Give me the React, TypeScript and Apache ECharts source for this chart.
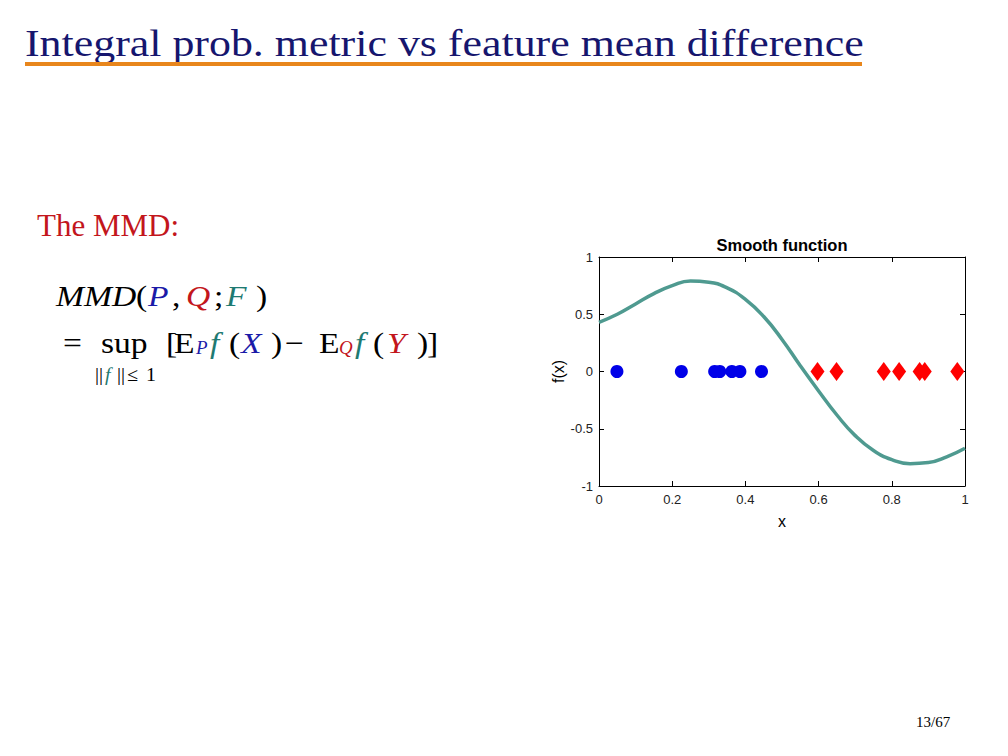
import React, { useEffect, useRef } from "react";
import * as echarts from "echarts";

const curveX = [0, 0.05, 0.1, 0.15, 0.2, 0.25, 0.3, 0.35, 0.4, 0.45, 0.5, 0.55, 0.6, 0.65, 0.7, 0.75, 0.8, 0.85, 0.9, 0.95, 1.0];
const curveY = [0.43, 0.5, 0.59, 0.68, 0.75, 0.79, 0.78, 0.73, 0.63, 0.48, 0.28, 0.05, -0.17, -0.38, -0.56, -0.69, -0.77, -0.805, -0.795, -0.745, -0.67];
const pX = [0.049, 0.225, 0.316, 0.33, 0.363, 0.385, 0.444];
const qX = [0.597, 0.649, 0.778, 0.82, 0.876, 0.89, 0.979];
const xTickLabels = ["0", "0.2", "0.4", "0.6", "0.8", "1"];
const yTickLabels = ["-1", "-0.5", "0", "0.5", "1"];

const SANS = "'Liberation Sans', Arial, sans-serif";
const SERIF = "'Liberation Serif', 'Times New Roman', serif";
const BLACK = "#000";
const BLUE = "#1a1aa8";
const RED = "#c3161c";
const TEAL = "#1e7a72";

// formula tokens: [text, x, centerY, font, color]
type Tok = [string, number, number, string, string];
const R30 = `30px ${SERIF}`;
const I30 = `italic 30px ${SERIF}`;
const I18 = `italic 18px ${SERIF}`;
const R19 = `19px ${SERIF}`;
const I19 = `italic 19px ${SERIF}`;
const formulaTokens: Tok[] = [
  ["MMD", 56, 296, I30, BLACK],
  ["(", 136, 296, R30, BLACK],
  ["P", 148, 296, I30, BLUE],
  [",", 172, 296, R30, BLACK],
  ["Q", 186, 296, I30, RED],
  [";", 214, 296, R30, BLACK],
  ["F", 226, 296, I30, TEAL],
  [")", 256, 296, R30, BLACK],
  ["=", 63, 343, R30, BLACK],
  ["sup", 101, 343, R30, BLACK],
  ["[", 166, 343, R30, BLACK],
  ["E", 174, 343, R30, BLACK],
  ["P", 196, 348, I18, BLUE],
  ["f", 210, 343, I30, TEAL],
  ["(", 229, 343, R30, BLACK],
  ["X", 241, 343, I30, BLUE],
  [")", 271, 343, R30, BLACK],
  ["\u2212", 285, 343, R30, BLACK],
  ["E", 319, 343, R30, BLACK],
  ["Q", 339, 348, I18, RED],
  ["f", 355, 343, I30, TEAL],
  ["(", 373, 343, R30, BLACK],
  ["Y", 387, 343, I30, RED],
  [")", 417, 343, R30, BLACK],
  ["]", 427, 343, R30, BLACK],
  ["||", 95, 375, R19, BLACK],
  ["f", 105, 375, I19, TEAL],
  ["||", 117, 375, R19, BLACK],
  ["\u2264", 127, 375, R19, BLACK],
  ["1", 146, 375, R19, BLACK],
];

export default function App() {
  const ref = useRef<HTMLDivElement>(null);
  useEffect(() => {
    document.body.style.margin = "0";
    const chart = echarts.init(ref.current!, null, { renderer: "svg" });
    const tickStyle = { show: true, inside: true, length: 5, lineStyle: { color: "#000", width: 1 } };
    const lineStyle = { show: true, onZero: false, lineStyle: { color: "#000", width: 1 } };
    const fmtX = (v: number) => xTickLabels[Math.round(v / 0.2)] ?? String(v);
    const fmtY = (v: number) => yTickLabels[Math.round((v + 1) / 0.5)] ?? String(v);
    const tokenEls = formulaTokens.map(([t, x, y, font, fill]) => ({
      type: "text",
      x,
      y,
      scaleX: font.indexOf("30px") >= 0 ? 1.12 : 1.05,
      style: { text: t, font, fill, verticalAlign: "middle", align: "left" },
    }));
    chart.setOption({
      animation: false,
      backgroundColor: "#fff",
      grid: { left: 599, top: 257, right: 43, bottom: 270 },
      xAxis: [
        {
          type: "value", min: 0, max: 1, interval: 0.2, position: "bottom",
          axisLine: lineStyle, axisTick: tickStyle, splitLine: { show: false },
          axisLabel: { fontFamily: SANS, fontSize: 13, color: "#222", margin: 7, formatter: fmtX },
          name: "x", nameLocation: "middle", nameGap: 27,
          nameTextStyle: { fontFamily: SANS, fontSize: 16, color: "#000" },
        },
        {
          type: "value", min: 0, max: 1, interval: 0.2, position: "top",
          axisLine: lineStyle, axisTick: tickStyle, splitLine: { show: false }, axisLabel: { show: false },
        },
      ],
      yAxis: [
        {
          type: "value", min: -1, max: 1, interval: 0.5, position: "left",
          axisLine: lineStyle, axisTick: tickStyle, splitLine: { show: false },
          axisLabel: { fontFamily: SANS, fontSize: 13, color: "#222", margin: 6, formatter: fmtY },
          name: "f(x)", nameLocation: "middle", nameGap: 30, nameRotate: 90,
          nameTextStyle: { fontFamily: SANS, fontSize: 16, color: "#000" },
        },
        {
          type: "value", min: -1, max: 1, interval: 0.5, position: "right",
          axisLine: lineStyle, axisTick: tickStyle, splitLine: { show: false }, axisLabel: { show: false },
        },
      ],
      series: [
        {
          type: "line", smooth: true, showSymbol: false, symbol: "none",
          data: curveX.map((x, i) => [x, curveY[i]]),
          lineStyle: { color: "#4f9a90", width: 3.5 },
          z: 1,
        },
        {
          type: "scatter", symbol: "circle", symbolSize: 13,
          data: pX.map((x) => [x, 0]),
          itemStyle: { color: "#0000e8", opacity: 1 },
          z: 2,
        },
        {
          type: "scatter", symbol: "diamond", symbolSize: [14, 19],
          data: qX.map((x) => [x, 0]),
          itemStyle: { color: "#ff0000", opacity: 1 },
          z: 2,
        },
      ],
      graphic: [
        {
          type: "text", x: 782, y: 245,
          style: {
            text: "Smooth function", font: `bold 16.5px ${SANS}`, fill: "#000",
            align: "center", verticalAlign: "middle",
          },
        },
        {
          type: "text", x: 25, y: 43, scaleX: 1.155,
          style: {
            text: "Integral prob. metric vs feature mean difference",
            font: `38px ${SERIF}`, fill: "#16166e", verticalAlign: "middle",
          },
        },
        { type: "rect", shape: { x: 25, y: 62, width: 837, height: 4 }, style: { fill: "#e8861c" } },
        {
          type: "text", x: 37, y: 225,
          style: { text: "The MMD:", font: `31px ${SERIF}`, fill: RED, verticalAlign: "middle" },
        },
        ...tokenEls,
        {
          type: "text", x: 916, y: 722,
          style: { text: "13/67", font: `15px ${SERIF}`, fill: "#000", verticalAlign: "middle" },
        },
      ],
    });
    return () => chart.dispose();
  }, []);
  return <div ref={ref} style={{ width: 1008, height: 756 }} />;
}
